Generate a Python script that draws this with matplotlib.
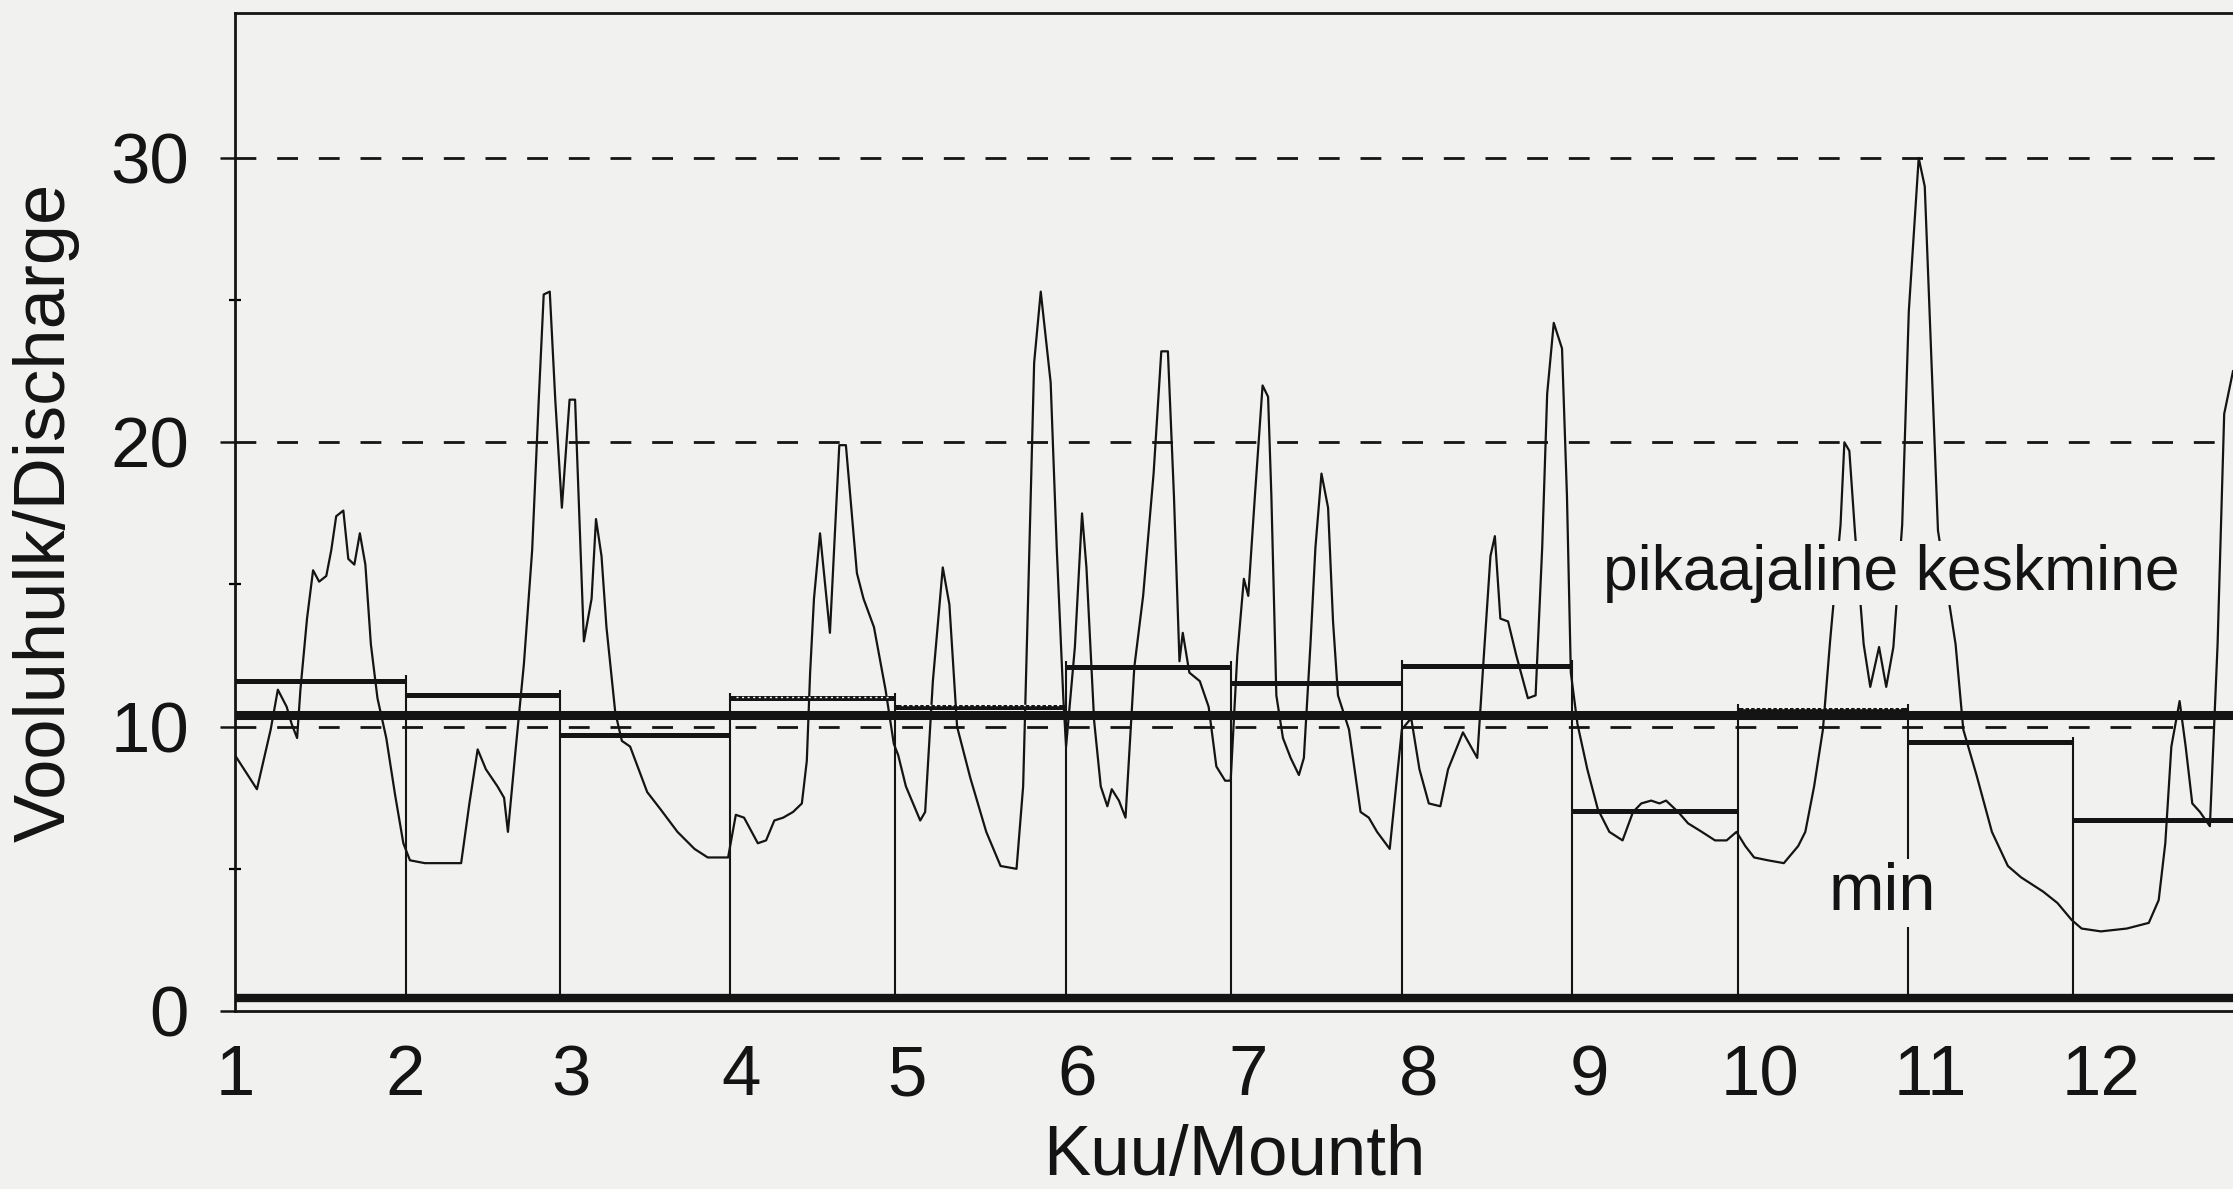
import numpy as np
import matplotlib
matplotlib.use("Agg")
import matplotlib.pyplot as plt

plt.rcParams['font.family'] = ['Liberation Sans', 'DejaVu Sans']

# päevane vooluhulk (päev aasta algusest, m3/s), loetud jooniselt
day = [0, 4, 6.5, 7.8, 9.4, 10.3, 11.3, 11.9, 13.1, 14.2, 15.3, 16.6, 17.5, 18.4, 19.7,
       20.6, 21.7, 22.7, 23.7, 24.7, 25.9, 27.5, 29.1, 30.6, 31.8, 34.5, 41.1, 42.6, 44.1,
       45.6, 47.7, 48.9, 49.6, 51, 52.5, 54, 55.2, 56.1, 57.2, 58.2, 59.4, 60.8, 61.8,
       63.4, 64.8, 65.6, 66.6, 67.5, 69.1, 70.3, 71.8, 74.9, 77.3, 80.4, 83.5, 85.9, 89.6,
       91, 92.5, 95, 96.5, 98, 99.6, 101.4, 103, 103.9, 104.5, 105.2, 106.3, 108.1, 109.8,
       111, 113, 114.2, 116.1, 118.2, 119.7, 120.5, 121.9, 124.5, 125.4, 126.8, 128.6,
       129.8, 131.2, 133.6, 136.5, 139.1, 142, 143.2, 144.1, 145.2, 146.4, 148.2, 149.3,
       150.5, 151, 152.6, 153.9, 154.7, 156.1, 157.3, 158.5, 159.3, 160.6, 161.8, 163.4,
       165, 166.9, 168.3, 169.5, 170.6, 171.6, 172.2, 173.4, 175.3, 176.9, 178.3, 179.9,
       180.9, 182.1, 183.3, 184.1, 185.3, 186.7, 187.7, 188.3, 189.2, 190.4, 191.8, 193.3,
       194.2, 195.4, 196.3, 197.4, 198.6, 199.5, 200.4, 202.4, 204.5, 206, 207.5, 209.8,
       212, 213.7, 215.2, 216.9, 219, 220.4, 223.1, 225.7, 226.9, 228.1, 228.9, 229.9,
       231.3, 232.8, 234.9, 236.3, 237.5, 238.4, 239.6, 241.1, 242, 242.7, 243.9, 245.7,
       247.6, 249.7, 252.1, 254, 255.5, 257.3, 258.8, 260, 262.2, 264, 266.5, 268.9, 271,
       272.8, 274.4, 276, 278.5, 281.4, 284, 285.3, 286.9, 288.5, 289.8, 291.7, 292.4,
       293.3, 294.3, 295.9, 297.1, 298.7, 300, 301.3, 302.9, 304.1, 305.9, 307, 308.2,
       309.4, 312.6, 314, 316.4, 319.2, 322.1, 324.5, 328.5, 331.1, 333.7, 335.5, 339,
       343.7, 347.7, 349.5, 350.7, 351.8, 353.3, 354.4, 355.6, 357, 358.8, 360.2, 361.4, 363]
flow = [9.0, 7.8, 9.9, 11.3, 10.7, 10.1, 9.6, 11.3, 13.8, 15.5, 15.1, 15.3, 16.2, 17.4, 17.6,
        15.9, 15.7, 16.8, 15.7, 12.9, 11.0, 9.6, 7.6, 5.9, 5.3, 5.2, 5.2, 7.3, 9.2,
        8.5, 7.9, 7.5, 6.3, 9.2, 12.2, 16.2, 21.5, 25.2, 25.3, 21.5, 17.7, 21.5, 21.5,
        13.0, 14.5, 17.3, 16.0, 13.5, 10.5, 9.5, 9.3, 7.7, 7.1, 6.3, 5.7, 5.4, 5.4,
        6.9, 6.8, 5.9, 6.0, 6.7, 6.8, 7.0, 7.3, 8.8, 11.9, 14.5, 16.8, 13.3, 19.9,
        19.9, 15.4, 14.5, 13.5, 11.3, 9.4, 9.0, 7.9, 6.7, 7.0, 11.6, 15.6,
        14.3, 10.0, 8.2, 6.3, 5.1, 5.0, 7.9, 14.5, 22.8, 25.3, 22.1, 16.3,
        11.0, 9.3, 12.8, 17.5, 15.6, 10.2, 7.9, 7.2, 7.8, 7.4, 6.8, 12.1,
        14.6, 18.9, 23.2, 23.2, 18.1, 12.3, 13.3, 11.9, 11.6, 10.7, 8.6, 8.1,
        8.1, 12.5, 15.2, 14.6, 18.1, 22.0, 21.6, 18.1, 11.1, 9.6, 8.9, 8.3,
        8.9, 12.9, 16.3, 18.9, 17.7, 13.7, 11.1, 9.9, 7.0, 6.8, 6.3, 5.7,
        9.9, 10.3, 8.5, 7.3, 7.2, 8.5, 9.8, 8.9, 12.5, 16.0, 16.7, 13.8,
        13.7, 12.5, 11.0, 11.1, 16.3, 21.7, 24.2, 23.3, 18.1, 11.9, 10.1, 8.5,
        7.1, 6.3, 6.0, 7.0, 7.3, 7.4, 7.3, 7.4, 7.0, 6.6, 6.3, 6.0, 6.0,
        6.3, 5.8, 5.4, 5.3, 5.2, 5.8, 6.3, 7.9, 9.9, 13.0, 17.1, 20.0,
        19.7, 16.9, 12.9, 11.4, 12.8, 11.4, 12.8, 17.1, 24.6, 30.0, 29.0, 23.0,
        16.9, 12.9, 9.9, 8.3, 6.3, 5.1, 4.7, 4.2, 3.8, 3.2, 2.9, 2.8,
        2.9, 3.1, 3.9, 5.9, 9.3, 10.9, 9.3, 7.3, 7.0, 6.5, 12.9, 21.0, 22.5]

# kuude algused (päev) ja aasta kuukeskmised
month_start = [0, 31, 59, 90, 120, 151, 181, 212, 243, 273, 304, 334, 365]
month_mean = [11.6, 11.1, 9.7, 11.0, 10.7, 12.1, 11.55, 12.15, 7.05, 10.6, 9.45, 6.7]
dotted_months = [4, 5, 10]

longterm_mean = 10.4
longterm_min = 0.45

month_labels = ['1', '2', '3', '4', '5', '6', '7', '8', '9', '10', '11', '12']
label_pos = [0, 31, 61, 92, 122, 153, 184, 215, 246, 277, 308, 339]

paper = '#f1f1f0'
ink = '#141414'

fig = plt.figure(figsize=(22.33, 11.89), dpi=100, facecolor=paper)
ax = fig.add_axes([0.1052, 0.1497, 0.8948, 0.8394], facecolor=paper)

# abijooned 10, 20, 30
for g in [10, 20, 30]:
    ax.axhline(g, color=ink, lw=2.0, ls=(0, (7.5, 7.5)), zorder=1)

# pikaajaline keskmine ja miinimum
ax.axhline(longterm_mean, color=ink, lw=6.5, zorder=3)
ax.axhline(longterm_min, color=ink, lw=6.0, zorder=3)

# kuukeskmised astmed + vertikaalid kuu piiril
for i, m in enumerate(month_mean):
    x0, x1 = month_start[i], month_start[i + 1]
    ax.hlines(m, x0, x1, color=ink, lw=3.6, zorder=4)
    if (i + 1) in dotted_months:
        ax.hlines(m + 0.05, x0 + 1, x1 - 1, color='white', lw=1.0, ls=(0, (1.5, 2.5)), zorder=5)
    if i > 0:
        top = max(month_mean[i - 1], m)
        ax.vlines(x0, longterm_min, top + 0.2, color=ink, lw=1.5, zorder=4)

# päevane vooluhulk
ax.plot(day, flow, color=ink, lw=1.6, zorder=2)

ax.text(248.5, 15.4, 'pikaajaline keskmine', fontsize=45, color=ink, va='center', ha='left',
        zorder=6, bbox=dict(facecolor=paper, edgecolor='none', pad=2))
ax.text(289.5, 4.15, 'min', fontsize=48, color=ink, va='center', ha='left',
        zorder=6, bbox=dict(facecolor=paper, edgecolor='none', pad=2))

ax.set_xlim(0, 363)
ax.set_ylim(0, 35.1)

ax.set_yticks([0, 10, 20, 30])
ax.set_yticklabels(['0', '10', '20', '30'])
ax.set_yticks([5, 15, 25], minor=True)
ax.set_xticks(label_pos)
ax.set_xticklabels(month_labels)

ax.tick_params(axis='y', which='major', direction='out', length=11, width=1.8,
               labelsize=51, pad=22, colors=ink)
ax.tick_params(axis='y', which='minor', direction='inout', length=9, width=1.6)
ax.tick_params(axis='x', which='major', length=0, labelsize=51, pad=24, colors=ink)

ax.set_xlabel('Kuu/Mounth', fontsize=51, color=ink, labelpad=10)
ax.set_ylabel('Vooluhulk/Discharge', fontsize=52, color=ink, labelpad=22)

for s in ['left', 'bottom', 'top']:
    ax.spines[s].set_linewidth(2.0)
    ax.spines[s].set_color(ink)
ax.spines['right'].set_visible(False)

fig.savefig('out.png', dpi=100, facecolor=paper)
